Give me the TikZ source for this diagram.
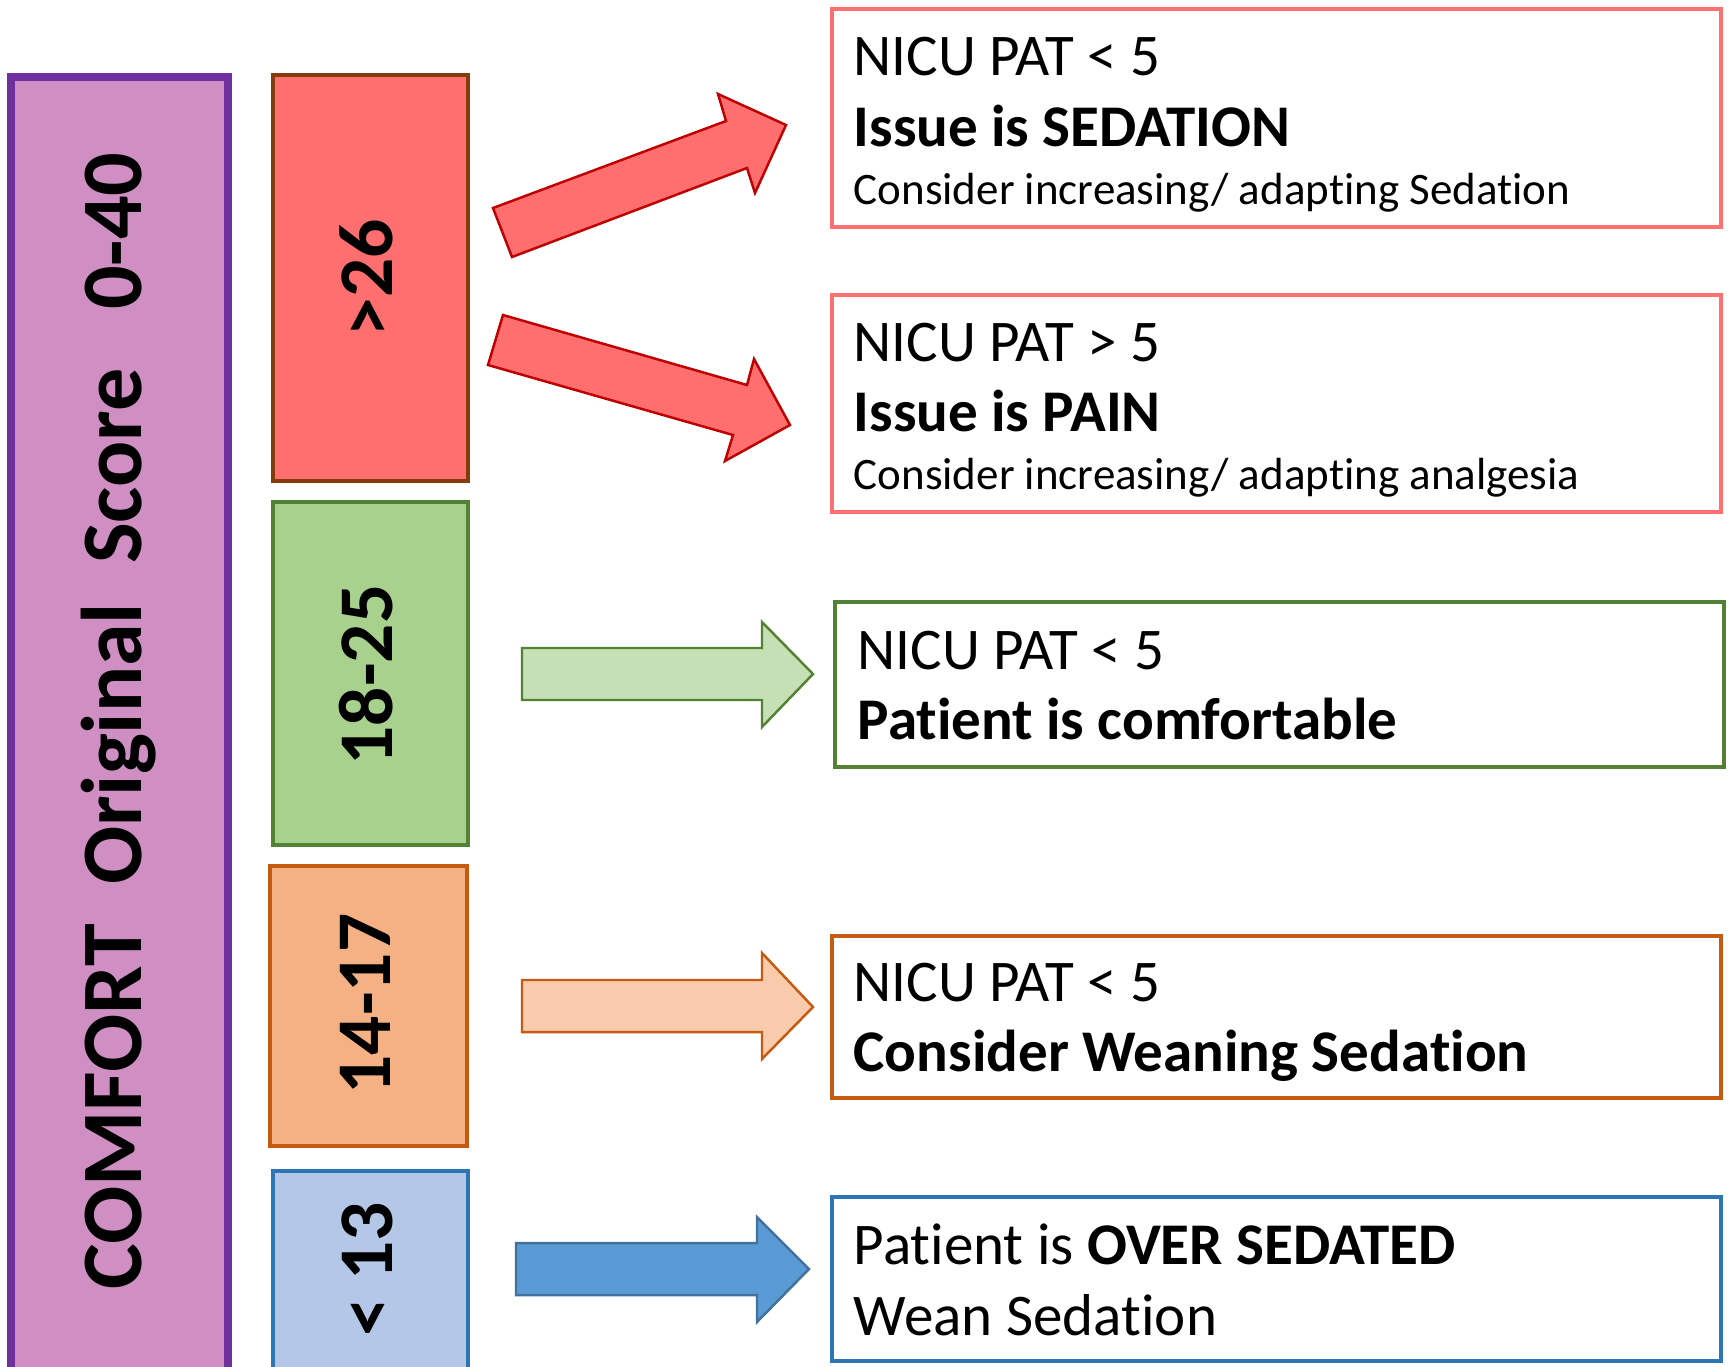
\documentclass[tikz,border=0pt]{standalone}
\usepackage{fontspec}
\setmainfont{Carlito}[Ligatures=NoCommon]

\definecolor{scorefill}{RGB}{207,143,195}
\definecolor{scoreline}{RGB}{112,48,160}
\definecolor{redfill}{RGB}{255,111,111}
\definecolor{redline}{RGB}{132,60,12}
\definecolor{redarrow}{RGB}{192,0,0}
\definecolor{pinkline}{RGB}{255,112,112}
\definecolor{greenfill}{RGB}{169,209,142}
\definecolor{greenline}{RGB}{84,130,53}
\definecolor{greenarrow}{RGB}{197,224,180}
\definecolor{orangefill}{RGB}{244,177,131}
\definecolor{orangeline}{RGB}{197,90,17}
\definecolor{orangearrow}{RGB}{248,203,173}
\definecolor{bluefill}{RGB}{180,199,231}
\definecolor{blueline}{RGB}{46,117,182}
\definecolor{bluearrow}{RGB}{91,155,213}
\definecolor{bluearrowline}{RGB}{65,113,156}

\tikzset{
  rangebox/.style={line width=0.9pt},
  advicebox/.style={line width=1.3pt, fill=white},
  blockarrow/.style={line width=0.7pt, line join=miter},
  rangelabel/.style={rotate=90, anchor=base, inner sep=0pt, font=\bfseries\fontsize{22}{22}\selectfont},
  advice/.style={anchor=base west, inner sep=0pt, font=\fontsize{16.8}{16.8}\selectfont},
  advicebold/.style={advice, font=\bfseries\fontsize{16.8}{16.8}\selectfont},
  advicesmall/.style={advice, font=\fontsize{12.8}{12.8}\selectfont}
}

\begin{document}
\begin{tikzpicture}[x=0.01cm, y=-0.01cm]
	\useasboundingbox (0,0) rectangle (1730,1366);

	% score column
	\draw[line width=2pt, draw=scoreline, fill=scorefill] (11,77) rectangle (228,1390);
	\node[rangelabel, font=\bfseries\fontsize{24.5}{24.5}\selectfont] (score) at (141,721) {COMFORT\ \ Original\ \ Score\ \ \ 0-40};

	% score ranges
	\draw[rangebox, draw=redline, fill=redfill] (273,75) rectangle (468,481);
	\draw[rangebox, draw=greenline, fill=greenfill] (273,502) rectangle (468,845);
	\draw[rangebox, draw=orangeline, fill=orangefill] (270,866) rectangle (467,1146);
	\draw[rangebox, draw=blueline, fill=bluefill] (273,1171) rectangle (468,1390);
	\node[rangelabel] (high) at (392,278) {>26};
	\node[rangelabel] (mid) at (392,675) {18-25};
	\node[rangelabel] (low) at (390,1004) {14-17};
	\node[rangelabel] (over) at (392,1269) {< 13};

	% block arrows
	\draw[blockarrow, draw=redarrow, fill=redfill] (493,208) -- (726,121) -- (718,94) -- (786,125)
		-- (755,193) -- (747,168) -- (512,257) -- cycle;
	\draw[blockarrow, draw=redarrow, fill=redfill] (503,315) -- (747,385) -- (754,359) -- (790,425)
		-- (725,461) -- (733,435) -- (488,365) -- cycle;
	\draw[blockarrow, draw=greenline, fill=greenarrow] (522,648) -- (762,648) -- (762,622) -- (813,674)
		-- (762,727) -- (762,700) -- (522,700) -- cycle;
	\draw[blockarrow, draw=orangeline, fill=orangearrow] (522,980) -- (762,980) -- (762,953) -- (813,1007)
		-- (762,1059) -- (762,1032) -- (522,1032) -- cycle;
	\draw[blockarrow, draw=bluearrowline, fill=bluearrow] (516,1243) -- (757,1243) -- (757,1217) -- (809,1269)
		-- (757,1322) -- (757,1295) -- (516,1295) -- cycle;

	% advice boxes
	\draw[advicebox, draw=pinkline] (832,9) rectangle (1721,227);
	\node[advice] (sedA) at (853,75) {NICU PAT < 5};
	\node[advicebold] (sedB) at (853,146) {Issue is SEDATION};
	\node[advicesmall] (sedC) at (853,204) {Consider increasing/ adapting Sedation};

	\draw[advicebox, draw=pinkline] (832,295) rectangle (1721,512);
	\node[advice] (painA) at (853,361) {NICU PAT > 5};
	\node[advicebold] (painB) at (853,431) {Issue is PAIN};
	\node[advicesmall] (painC) at (853,489) {Consider increasing/ adapting analgesia};

	\draw[advicebox, draw=greenline] (835,602) rectangle (1724,767);
	\node[advice] (okA) at (857,669) {NICU PAT < 5};
	\node[advicebold] (okB) at (857,739) {Patient is comfortable};

	\draw[advicebox, draw=orangeline] (832,936) rectangle (1721,1098);
	\node[advice] (weanA) at (853,1001) {NICU PAT < 5};
	\node[advicebold] (weanB) at (853,1071) {Consider Weaning Sedation};

	\draw[advicebox, draw=blueline] (832,1197) rectangle (1721,1361);
	\node[advice] (overA) at (853,1264) {Patient is \textbf{OVER SEDATED}};
	\node[advice] (overB) at (853,1335) {Wean Sedation};
\end{tikzpicture}
\end{document}
